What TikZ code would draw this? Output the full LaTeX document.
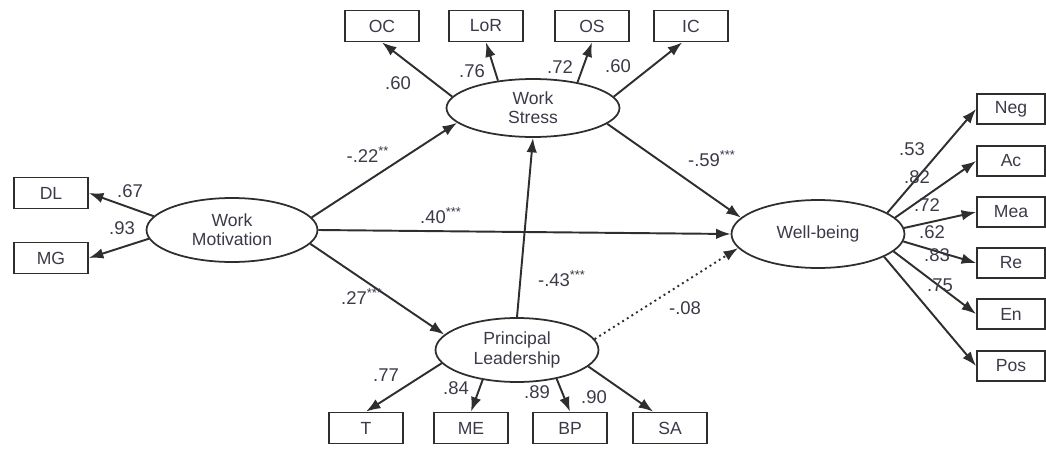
\documentclass[tikz,border=0pt]{standalone}
\usepackage{fontspec}
\setmainfont{Liberation Sans}
\usepackage{tikz}
\usetikzlibrary{arrows.meta,shapes.geometric}
\definecolor{pathgray}{HTML}{2E2E2E}
\definecolor{textgray}{HTML}{3A3A48}
\newcommand{\sig}[1]{\textsuperscript{#1}}
\tikzset{
    latent-var/.style = {draw=pathgray, line width=1pt, ellipse, inner sep=0pt, align=center, font=\fontsize{10}{11}\selectfont, text=textgray},
    obs-box/.style = {draw=pathgray, line width=1pt, rectangle, inner sep=0pt, minimum width=1.48cm, minimum height=0.62cm, font=\fontsize{10}{11}\selectfont, text=textgray},
    wb-box/.style = {obs-box, minimum width=1.36cm, minimum height=0.6cm},
    path-arrow/.style = {draw=pathgray, line width=1.1pt, -{Latex[length=2.9mm,width=2.1mm]}},
    coef/.style = {inner sep=0pt, font=\fontsize{10.5}{12}\selectfont, text=textgray},
}

\begin{document}
\begin{tikzpicture}[x=0.02cm, y=-0.02cm]
\useasboundingbox (0,0) rectangle (1046,450);

% latent variables
\node [latent-var, minimum width=3.42cm, minimum height=1.28cm] (wm) at (232,230) {Work\\Motivation};
\node [latent-var, minimum width=3.46cm, minimum height=1.16cm] (ws) at (533,108) {Work\\Stress};
\node [latent-var, minimum width=3.26cm, minimum height=1.28cm] (pl) at (517,350) {Principal\\Leadership};
\node [latent-var, minimum width=3.46cm, minimum height=1.36cm] (wb) at (818,234) {Well-being};

% indicators
\node [obs-box] (dl) at (51,193) {DL};
\node [obs-box] (mg) at (51,258) {MG};
\node [obs-box] (oc) at (382,26) {OC};
\node [obs-box] (lor) at (486,26) {LoR};
\node [obs-box] (os) at (592,26) {OS};
\node [obs-box] (ic) at (691,26) {IC};
\node [obs-box] (t) at (366,428) {T};
\node [obs-box] (me) at (471,428) {ME};
\node [obs-box] (bp) at (570,428) {BP};
\node [obs-box] (sa) at (670,428) {SA};
\node [wb-box] (neg) at (1011,109) {Neg};
\node [wb-box] (ac) at (1011,161) {Ac};
\node [wb-box] (mea) at (1011,212) {Mea};
\node [wb-box] (re) at (1011,263) {Re};
\node [wb-box] (en) at (1011,314) {En};
\node [wb-box] (pos) at (1011,366) {Pos};

% loadings
\draw [path-arrow] (wm.170) -- (dl.east);
\draw [path-arrow] (wm.186) -- (mg.east);
\draw [path-arrow] (ws.172) -- (oc.south);
\draw [path-arrow] (ws.142) -- (lor.south);
\draw [path-arrow] (ws.30) -- (os.south);
\draw [path-arrow] (ws.8) -- ([xshift=-5pt]ic.south);
\draw [path-arrow] (pl.190) -- (t.north);
\draw [path-arrow] (pl.221) -- (me.north);
\draw [path-arrow] (pl.324) -- (bp.north);
\draw [path-arrow] (pl.347) -- ([xshift=12pt]sa.north west);
\draw [path-arrow] (wb.17) -- (neg.west);
\draw [path-arrow] (wb.12) -- (ac.west);
\draw [path-arrow] (wb.4) -- (mea.west);
\draw [path-arrow] (wb.-5) -- (re.west);
\draw [path-arrow] (wb.-13) -- (en.west);
\draw [path-arrow] (wb.-19) -- (pos.west);

% structural paths
\draw [path-arrow] (wm.9) -- (ws.191);
\draw [path-arrow] (wm.350) -- (pl.168);
\draw [path-arrow] (wm.east) -- (wb.west);
\draw [path-arrow] (pl.north) -- (ws.south);
\draw [path-arrow] (ws.348) -- (wb.168);
\draw [path-arrow, dotted] (pl.8) -- (wb.190);

% coefficients
\node [coef] (c-dl) at (130,191) {.67};
\node [coef] (c-mg) at (122,228) {.93};
\node [coef] (c-oc) at (398,83) {.60};
\node [coef] (c-lor) at (472,71) {.76};
\node [coef] (c-os) at (560,67) {.72};
\node [coef] (c-ic) at (618,66) {.60};
\node [coef] (c-t) at (386,375) {.77};
\node [coef] (c-me) at (456,388) {.84};
\node [coef] (c-bp) at (537,392) {.89};
\node [coef] (c-sa) at (594,397) {.90};
\node [coef] (c-neg) at (912,149) {.53};
\node [coef] (c-ac) at (917,177) {.82};
\node [coef] (c-mea) at (927,205) {.72};
\node [coef] (c-re) at (932,232) {.62};
\node [coef] (c-en) at (937,255) {.83};
\node [coef] (c-pos) at (940,285) {.75};
\node [coef] (c-wmws) at (368,155) {-.22\sig{**}};
\node [coef] (c-wmwb) at (441,216) {.40\sig{***}};
\node [coef] (c-wswb) at (712,159) {-.59\sig{***}};
\node [coef] (c-wmpl) at (362,297) {.27\sig{***}};
\node [coef] (c-plws) at (562,279) {-.43\sig{***}};
\node [coef] (c-plwb) at (685,308) {-.08};
\end{tikzpicture}
\end{document}
